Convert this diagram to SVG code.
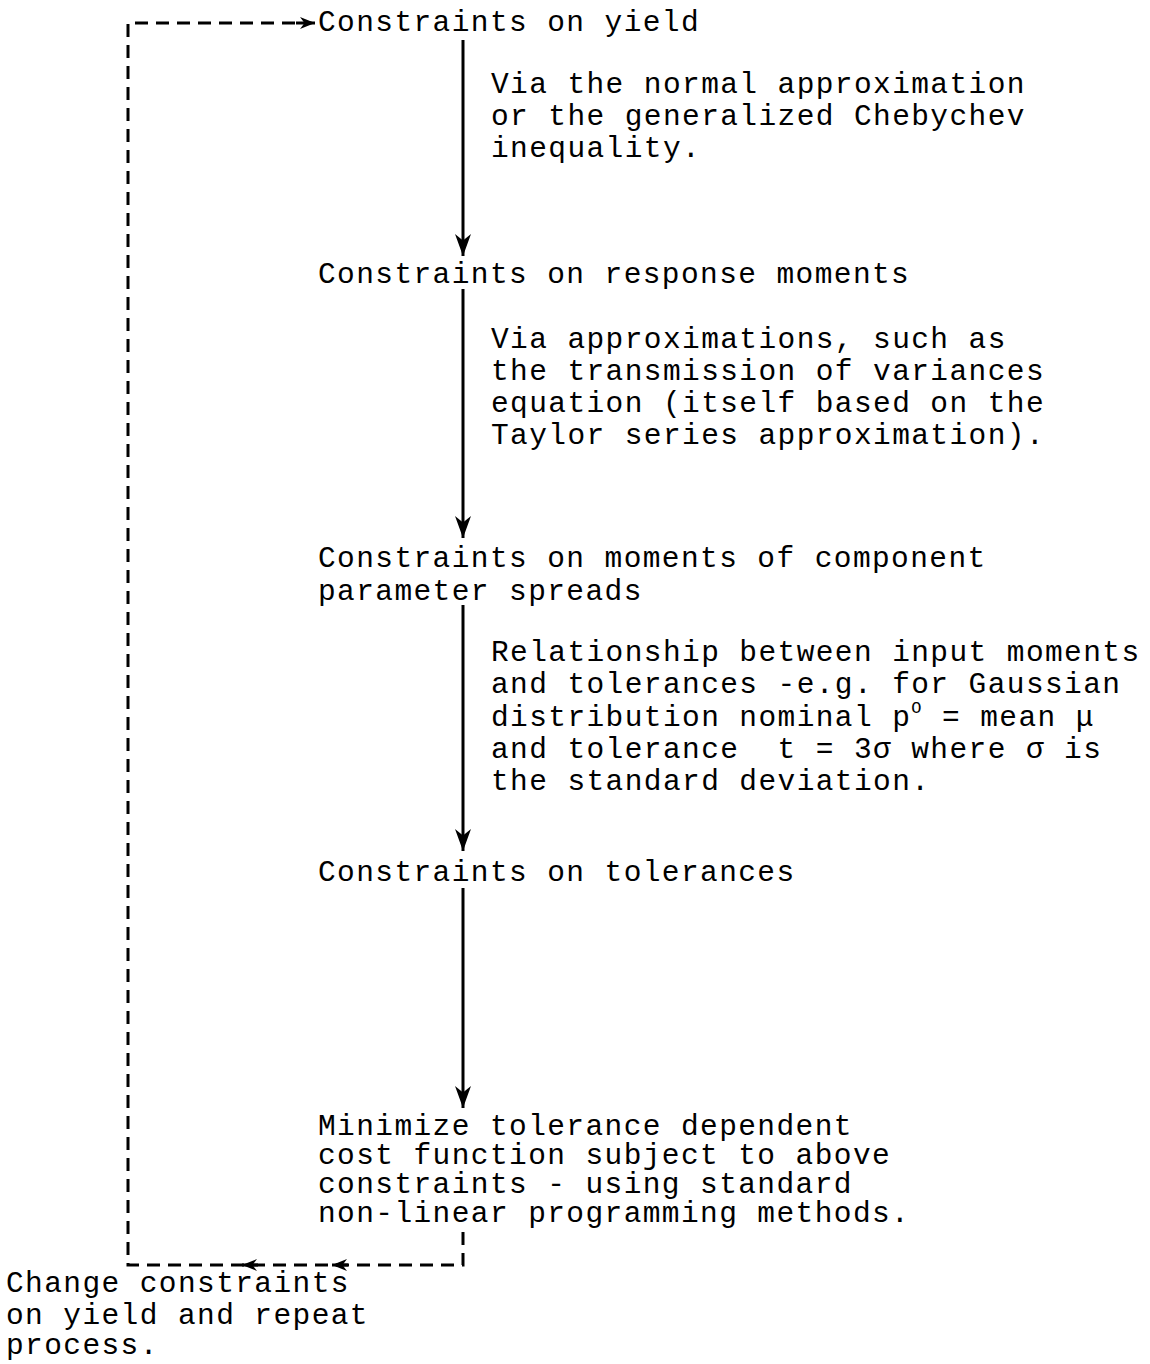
<svg xmlns="http://www.w3.org/2000/svg" width="1150" height="1364" viewBox="0 0 1150 1364">
<style>
text{font-family:"Liberation Mono","DejaVu Sans Mono",monospace;font-size:29.5px;letter-spacing:1.4px;fill:#000;white-space:pre}
.solid{stroke:#000;stroke-width:3;fill:none}
.dash{stroke:#000;stroke-width:3;fill:none;stroke-dasharray:13 8}
</style>
<defs>
<marker id="ah" viewBox="0 0 10 10" refX="10" refY="5" markerWidth="15" markerHeight="12" markerUnits="userSpaceOnUse" orient="auto" preserveAspectRatio="none">
<path d="M0,0 L10,5 L0,10 L3,5 Z" fill="#000"/>
</marker>
<marker id="ahv" viewBox="0 0 10 10" refX="10" refY="5" markerWidth="22" markerHeight="16" markerUnits="userSpaceOnUse" orient="auto" preserveAspectRatio="none">
<path d="M0,0 L10,5 L0,10 L3,5 Z" fill="#000"/>
</marker>
</defs>
<g id="connectors">
<line class="solid" x1="463" y1="40" x2="463" y2="256" marker-end="url(#ahv)"/>
<line class="solid" x1="463" y1="289" x2="463" y2="538" marker-end="url(#ahv)"/>
<line class="solid" x1="463" y1="605" x2="463" y2="851" marker-end="url(#ahv)"/>
<line class="solid" x1="463" y1="888" x2="463" y2="1108" marker-end="url(#ahv)"/>
<path class="dash" d="M463,1232 L463,1265 L128,1265 L128,23 L300,23"/>
<line class="solid" x1="296" y1="23" x2="315" y2="23" marker-end="url(#ah)"/>
<line class="solid" x1="258" y1="1265" x2="242" y2="1265" marker-end="url(#ah)"/>
<line class="solid" x1="348" y1="1265" x2="332" y2="1265" marker-end="url(#ah)"/>
</g>
<g id="n1"><text x="318" y="31">Constraints on yield</text></g>
<g id="l1">
<text x="491" y="93">Via the normal approximation</text>
<text x="491" y="125">or the generalized Chebychev</text>
<text x="491" y="157">inequality.</text>
</g>
<g id="n2"><text x="318" y="283">Constraints on response moments</text></g>
<g id="l2">
<text x="491" y="348">Via approximations, such as</text>
<text x="491" y="380">the transmission of variances</text>
<text x="491" y="412">equation (itself based on the</text>
<text x="491" y="444">Taylor series approximation).</text>
</g>
<g id="n3">
<text x="318" y="567">Constraints on moments of component</text>
<text x="318" y="600">parameter spreads</text>
</g>
<g id="l3">
<text x="491" y="661">Relationship between input moments</text>
<text x="491" y="693">and tolerances -e.g. for Gaussian</text>
<text x="491" y="726">distribution nominal p<tspan dy="-13" font-size="17">O</tspan><tspan dy="13"> = mean μ</tspan></text>
<text x="491" y="758">and tolerance  t = 3σ where σ is</text>
<text x="491" y="790">the standard deviation.</text>
</g>
<g id="n4"><text x="318" y="881">Constraints on tolerances</text></g>
<g id="n5">
<text x="318" y="1135">Minimize tolerance dependent</text>
<text x="318" y="1164">cost function subject to above</text>
<text x="318" y="1193">constraints - using standard</text>
<text x="318" y="1222">non-linear programming methods.</text>
</g>
<g id="n6">
<text x="6" y="1292">Change constraints</text>
<text x="6" y="1324">on yield and repeat</text>
<text x="6" y="1354">process.</text>
</g>
</svg>
